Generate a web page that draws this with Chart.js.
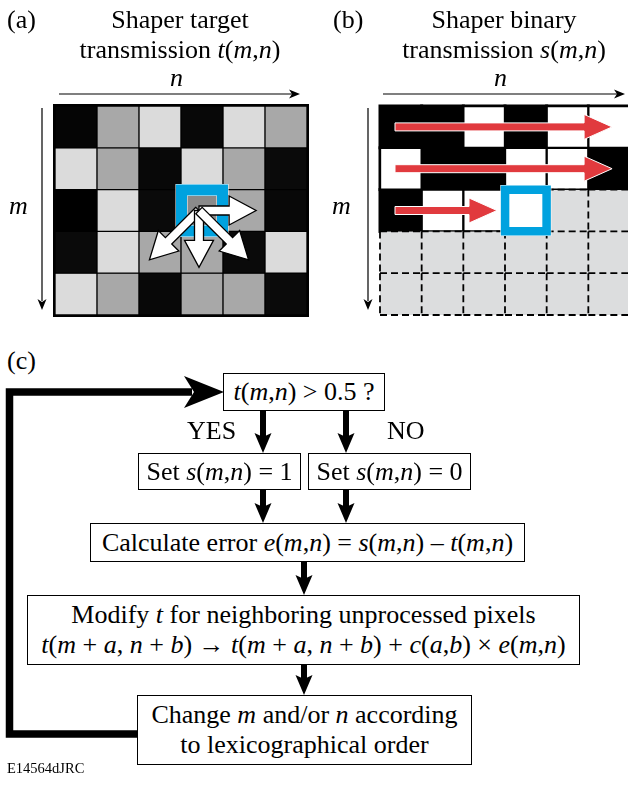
<!DOCTYPE html>
<html>
<head>
<meta charset="utf-8">
<script src="https://cdn.jsdelivr.net/npm/chart.js@4.4.1/dist/chart.umd.min.js"></script>
<style>
  body { margin:0; width:628px; height:785px; position:relative; overflow:hidden; background:#fff;
         font-family:"Liberation Serif", Tinos, serif; color:#000; }
  .t { position:absolute; font-size:26px; line-height:30px; white-space:nowrap; }
  .c { text-align:center; }
  .box { position:absolute; box-sizing:border-box; border:1.5px solid #000; background:#fff;
         display:flex; align-items:center; justify-content:center; text-align:center;
         font-size:26px; line-height:30px; white-space:nowrap; }
  #chartA { position:absolute; left:0; top:0; }
  #chartB { position:absolute; left:314px; top:0; }
  svg { position:absolute; left:0; top:0; }
</style>
</head>
<body>
<canvas id="chartA" width="314" height="330"></canvas>
<canvas id="chartB" width="320" height="330"></canvas>

<div class="t" style="left:7px;top:5px">(a)</div>
<div class="t c" style="left:0;top:5px;width:360px">Shaper target<br>transmission <i>t</i>(<i>m</i>,<i>n</i>)</div>
<div class="t" style="left:170px;top:63px"><i>n</i></div>
<div class="t" style="left:9px;top:191px"><i>m</i></div>

<div class="t" style="left:333px;top:5px">(b)</div>
<div class="t c" style="left:324px;top:5px;width:360px">Shaper binary<br>transmission <i>s</i>(<i>m</i>,<i>n</i>)</div>
<div class="t" style="left:494px;top:63px"><i>n</i></div>
<div class="t" style="left:332px;top:191px"><i>m</i></div>

<div class="t" style="left:7px;top:346px">(c)</div>

<svg width="628" height="785" viewBox="0 0 628 785">
  <polyline points="139,734 9.5,734 9.5,392 192,392" fill="none" stroke="#000" stroke-width="7.5" stroke-linejoin="miter"/>
  <polygon points="184,376 224,392 184,408 194,392" fill="#000"/>
  <g stroke="#000" stroke-width="6">
    <line x1="263" y1="411" x2="263" y2="440"/>
    <line x1="346" y1="411" x2="346" y2="440"/>
    <line x1="263" y1="490" x2="263" y2="510"/>
    <line x1="346" y1="490" x2="346" y2="510"/>
    <line x1="304" y1="562" x2="304" y2="582"/>
    <line x1="304" y1="665" x2="304" y2="682"/>
  </g>
  <g fill="#000">
    <polygon points="254.5,433 263,453 271.5,433 263,437"/>
    <polygon points="337.5,433 346,453 354.5,433 346,437"/>
    <polygon points="254.5,503 263,523 271.5,503 263,507"/>
    <polygon points="337.5,503 346,523 354.5,503 346,507"/>
    <polygon points="295.5,575 304,595 312.5,575 304,579"/>
    <polygon points="295.5,675 304,695 312.5,675 304,679"/>
  </g>
</svg>

<div class="box" style="left:223px;top:373px;width:162px;height:38px"><span><i>t</i>(<i>m</i>,<i>n</i>) &gt; 0.5 ?</span></div>
<div class="t" style="left:187px;top:416px">YES</div>
<div class="t" style="left:387px;top:416px">NO</div>
<div class="box" style="left:138px;top:453px;width:163px;height:37px"><span>Set <i>s</i>(<i>m</i>,<i>n</i>) = 1</span></div>
<div class="box" style="left:308px;top:453px;width:163px;height:37px"><span>Set <i>s</i>(<i>m</i>,<i>n</i>) = 0</span></div>
<div class="box" style="left:90px;top:523px;width:435px;height:39px"><span>Calculate error <i>e</i>(<i>m</i>,<i>n</i>) = <i>s</i>(<i>m</i>,<i>n</i>) – <i>t</i>(<i>m</i>,<i>n</i>)</span></div>
<div class="box" style="left:27px;top:595px;width:553px;height:70px"><span>Modify <i>t</i> for neighboring unprocessed pixels<br><i>t</i>(<i>m</i> + <i>a</i>, <i>n</i> + <i>b</i>) → <i>t</i>(<i>m</i> + <i>a</i>, <i>n</i> + <i>b</i>) + <i>c</i>(<i>a</i>,<i>b</i>) × <i>e</i>(<i>m</i>,<i>n</i>)</span></div>
<div class="box" style="left:137px;top:695px;width:335px;height:70px"><span>Change <i>m</i> and/or <i>n</i> according<br>to lexicographical order</span></div>
<div class="t" style="left:7px;top:760px;font-size:14.5px;line-height:16px">E14564dJRC</div>

<script>
// columns n and rows m of the 5 x 6 pixel grid
var nLabels = ['0', '1', '2', '3', '4', '5'];

// t(m,n): target transmission, read from the grey level of each cell in (a)
var tRow0 = [0.02, 0.66, 0.86, 0.03, 0.86, 0.66];
var tRow1 = [0.86, 0.66, 0.03, 0.86, 0.66, 0.04];
var tRow2 = [0.00, 0.86, 0.04, 0.54, 0.66, 0.03];
var tRow3 = [0.04, 0.86, 0.66, 0.66, 0.04, 0.86];
var tRow4 = [0.86, 0.66, 0.03, 0.66, 0.66, 0.04];

// s(m,n): binary transmission so far in (b), null = not processed yet
var sRow0 = [0, 0, 1, 0, 1, 1];
var sRow1 = [1, 0, 0, 1, 1, 0];
var sRow2 = [0, 1, 1, 1, null, null];
var sRow3 = [null, null, null, null, null, null];
var sRow4 = [null, null, null, null, null, null];

// pixel being processed and the neighbours that receive its error [da, db]
var currentM = 2;
var currentN = 3;
var diffuseTo = [[0, 1], [1, -1], [1, 0], [1, 1]];

var tRows = [tRow0, tRow1, tRow2, tRow3, tRow4];
var sRows = [sRow0, sRow1, sRow2, sRow3, sRow4];

var BLUE = '#00a2df';
var RED = '#e13a3e';
var UNPROCESSED = '#dcddde';

function grey(v) {
    var g = Math.round(v * 255);
    return 'rgb(' + g + ',' + g + ',' + g + ')';
}

function rowDatasets(rows, colorFn, borderFn) {
    return rows.map(function (vals, m) {
        return {
            data: vals.map(function () { return [m, m + 1]; }),
            backgroundColor: vals.map(colorFn),
            borderColor: '#000',
            borderWidth: vals.map(borderFn),
            borderSkipped: false,
            grouped: false,
            barPercentage: 1,
            categoryPercentage: 1
        };
    });
}

function gridOptions(pad) {
    return {
        responsive: false,
        animation: false,
        events: [],
        layout: { padding: pad },
        plugins: { legend: { display: false }, tooltip: { enabled: false } },
        scales: {
            x: { type: 'category', display: false, offset: true },
            y: { type: 'linear', display: false, min: 0, max: 5, reverse: true }
        }
    };
}

// pixel box of cell (m,n) taken from the chart scales
function cell(chart, m, n) {
    var xs = chart.scales.x, ys = chart.scales.y;
    var w = xs.getPixelForValue(1) - xs.getPixelForValue(0);
    var cx = xs.getPixelForValue(n);
    var top = ys.getPixelForValue(m), bottom = ys.getPixelForValue(m + 1);
    return { left: cx - w / 2, right: cx + w / 2, top: top, bottom: bottom,
             cx: cx, cy: (top + bottom) / 2, w: w, h: bottom - top };
}

function arrowPath(ctx, x0, y0, x1, y1, sw, hl, hw) {
    var dx = x1 - x0, dy = y1 - y0, len = Math.hypot(dx, dy);
    var ux = dx / len, uy = dy / len, px = -uy, py = ux;
    var bx = x1 - ux * hl, by = y1 - uy * hl;
    ctx.beginPath();
    ctx.moveTo(x0 + px * sw, y0 + py * sw);
    ctx.lineTo(bx + px * sw, by + py * sw);
    ctx.lineTo(bx + px * hw, by + py * hw);
    ctx.lineTo(x1, y1);
    ctx.lineTo(bx - px * hw, by - py * hw);
    ctx.lineTo(bx - px * sw, by - py * sw);
    ctx.lineTo(x0 - px * sw, y0 - py * sw);
    ctx.closePath();
}

function drawAxisArrows(chart, xl, xr, ym) {
    var ctx = chart.ctx, a = chart.chartArea;
    var y = a.top - 12, x = a.left - ym;
    ctx.save();
    ctx.strokeStyle = '#000';
    ctx.fillStyle = '#000';
    ctx.lineWidth = 1.2;
    ctx.beginPath();
    ctx.moveTo(a.left + xl, y);
    ctx.lineTo(a.right - xr - 8, y);
    ctx.moveTo(x, a.top + 2);
    ctx.lineTo(x, a.bottom - 14);
    ctx.stroke();
    ctx.beginPath();
    ctx.moveTo(a.right - xr, y);
    ctx.lineTo(a.right - xr - 11, y - 4.5);
    ctx.lineTo(a.right - xr - 8, y);
    ctx.lineTo(a.right - xr - 11, y + 4.5);
    ctx.closePath();
    ctx.fill();
    ctx.beginPath();
    ctx.moveTo(x, a.bottom - 5);
    ctx.lineTo(x - 4.5, a.bottom - 16);
    ctx.lineTo(x, a.bottom - 13);
    ctx.lineTo(x + 4.5, a.bottom - 16);
    ctx.closePath();
    ctx.fill();
    ctx.restore();
}

function drawFrame(ctx, c, half, lw) {
    ctx.save();
    ctx.strokeStyle = '#fff';
    ctx.lineWidth = 1;
    ctx.strokeRect(c.cx - half - lw / 2, c.cy - half - lw / 2, 2 * half + lw, 2 * half + lw);
    ctx.strokeRect(c.cx - half + lw / 2, c.cy - half + lw / 2, 2 * half - lw, 2 * half - lw);
    ctx.strokeStyle = BLUE;
    ctx.lineWidth = lw;
    ctx.strokeRect(c.cx - half, c.cy - half, 2 * half, 2 * half);
    ctx.restore();
}

var targetPanel = {
    id: 'targetPanel',
    beforeDatasetsDraw: function (chart) {
        var a = chart.chartArea, ctx = chart.ctx;
        ctx.save();
        ctx.fillStyle = '#000';
        ctx.fillRect(a.left - 2, a.top - 2, a.right - a.left + 4, a.bottom - a.top + 4);
        ctx.restore();
    },
    afterDatasetsDraw: function (chart) {
        var ctx = chart.ctx;
        var c = cell(chart, currentM, currentN);
        drawFrame(ctx, c, 20.5, 11);
        ctx.save();
        ctx.fillStyle = '#fff';
        ctx.strokeStyle = '#000';
        ctx.lineWidth = 1.3;
        ctx.lineJoin = 'miter';
        diffuseTo.forEach(function (d) {
            var k = d[0] && d[1] ? 1.18 : 1.36;
            var x0 = c.cx - 3, y0 = c.cy;
            arrowPath(ctx, x0, y0, x0 + d[1] * c.w * k, y0 + d[0] * c.h * k, 4.5, 27, 14.5);
            ctx.fill();
            ctx.stroke();
        });
        ctx.restore();
        drawAxisArrows(chart, 4, 7, 13);
    }
};

var binaryPanel = {
    id: 'binaryPanel',
    beforeDatasetsDraw: function (chart) {
        var ctx = chart.ctx;
        ctx.save();
        ctx.fillStyle = '#000';
        sRows.forEach(function (vals, m) {
            vals.forEach(function (v, n) {
                if (v === null) return;
                var c = cell(chart, m, n);
                ctx.fillRect(c.left - 1.5, c.top - 1.5, c.w + 3, c.h + 3);
            });
        });
        ctx.restore();
    },
    afterDatasetsDraw: function (chart) {
        var ctx = chart.ctx;
        // dashed outlines of the pixels not processed yet
        var done = {};
        ctx.save();
        ctx.strokeStyle = '#000';
        ctx.lineWidth = 1.8;
        ctx.setLineDash([7, 4]);
        sRows.forEach(function (vals, m) {
            vals.forEach(function (v, n) {
                if (v !== null) return;
                var c = cell(chart, m, n);
                var edges = [
                    ['h', m, n, c.left, c.top, c.right, c.top],
                    ['h', m + 1, n, c.left, c.bottom, c.right, c.bottom],
                    ['v', m, n, c.left, c.top, c.left, c.bottom],
                    ['v', m, n + 1, c.right, c.top, c.right, c.bottom]
                ];
                edges.forEach(function (e) {
                    var key = e[0] + e[1] + '_' + e[2];
                    if (done[key]) return;
                    done[key] = true;
                    ctx.beginPath();
                    ctx.moveTo(e[3], e[4]);
                    ctx.lineTo(e[5], e[6]);
                    ctx.stroke();
                });
            });
        });
        ctx.restore();

        // scan path, row by row
        ctx.save();
        ctx.fillStyle = RED;
        ctx.strokeStyle = '#fff';
        ctx.lineWidth = 1;
        for (var m = 0; m <= currentM; m++) {
            var first = cell(chart, m, 0);
            var x1;
            if (m < currentM) {
                var last = cell(chart, m, nLabels.length - 1);
                x1 = last.left + 0.57 * last.w;
            } else {
                x1 = cell(chart, m, currentN).left - 8;
            }
            arrowPath(ctx, first.left + 15, first.cy, x1, first.cy, 4, 28, 12.5);
            ctx.fill();
            ctx.stroke();
        }
        ctx.restore();

        drawFrame(ctx, cell(chart, currentM, currentN), 20.75, 8.5);
        drawAxisArrows(chart, 3, 5, 12);
    }
};

document.addEventListener('DOMContentLoaded', function () {
    new Chart(document.getElementById('chartA'), {
        type: 'bar',
        data: {
            labels: nLabels,
            datasets: rowDatasets(tRows, grey, function () { return 1; })
        },
        options: gridOptions({ left: 55, right: 7, top: 106, bottom: 15 }),
        plugins: [targetPanel]
    });

    new Chart(document.getElementById('chartB'), {
        type: 'bar',
        data: {
            labels: nLabels,
            datasets: rowDatasets(sRows, function (v) {
                if (v === null) return UNPROCESSED;
                return v ? '#fff' : '#000';
            }, function (v) {
                return v === null ? 0 : 1.5;
            })
        },
        options: gridOptions({ left: 66, right: 4, top: 106, bottom: 15 }),
        plugins: [binaryPanel]
    });
});
</script>
</body>
</html>
